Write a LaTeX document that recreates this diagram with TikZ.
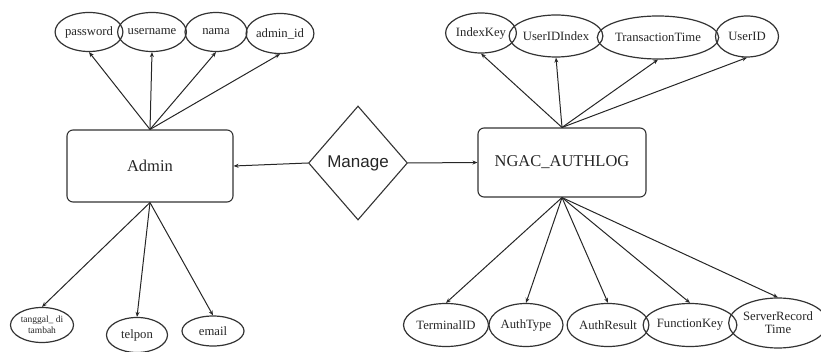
\documentclass[tikz,border=0pt]{standalone}
\usepackage{fontspec}
\setmainfont{Liberation Serif}
\newfontfamily\mansans{Liberation Sans}
\usetikzlibrary{shapes.geometric,arrows.meta}
\begin{document}
\begin{tikzpicture}[x=1pt,y=-1pt,
  attr/.style={draw=black!80, text=black!85, line width=1.2pt, ellipse, inner sep=0pt, align=center, font=\fontsize{12.7}{13}\selectfont},
  entity/.style={draw=black!80, text=black!85, line width=1.1pt, rounded corners=6pt, inner sep=0pt, font=\fontsize{16.5}{18}\selectfont},
  rel/.style={draw=black!80, text=black!85, line width=1.1pt, diamond, inner sep=0pt, minimum width=99pt, minimum height=114pt, font=\mansans\fontsize{17}{18}\selectfont},
  conn/.style={draw=black!85, line width=1pt, -{Stealth[length=5pt,width=4pt]}}]
\useasboundingbox (0,0) rectangle (821,352);
% entities
\node[entity, minimum width=166pt, minimum height=72pt] (admin) at (150,166) {Admin};
\node[entity, minimum width=168pt, minimum height=69pt] (ngac) at (562,162.5) {NGAC\_AUTHLOG};
\node[rel] (manage) at (358,163) {Manage};
% admin attributes
\node[attr, minimum width=62pt, minimum height=39pt] (pw) at (89,32) {password};
\node[attr, minimum width=62pt, minimum height=39pt] (un) at (152,32) {username};
\node[attr, minimum width=62pt, minimum height=39pt] (nama) at (216,32) {nama};
\node[attr, minimum width=64pt, minimum height=40pt] (aid) at (280,33.5) {admin\_id};
\node[attr, minimum width=63pt, minimum height=35pt, font=\fontsize{9.5}{11}\selectfont] (tgl) at (42,325) {tanggal\_ di\\tambah};
\node[attr, minimum width=61pt, minimum height=35pt] (tel) at (137,335) {telpon};
\node[attr, minimum width=62pt, minimum height=30pt] (email) at (213,331) {email};
% ngac attributes
\node[attr, minimum width=65pt, minimum height=40pt] (ik) at (481,33) {IndexKey};
\node[attr, minimum width=87pt, minimum height=42pt] (uii) at (556,36) {UserIDIndex};
\node[attr, minimum width=114pt, minimum height=43pt] (tt) at (658,37.5) {TransactionTime};
\node[attr, minimum width=63pt, minimum height=41pt] (uid) at (747,36.5) {UserID};
\node[attr, minimum width=85pt, minimum height=43pt] (tid) at (446,325) {TerminalID};
\node[attr, minimum width=74pt, minimum height=43pt] (at) at (526,325) {AuthType};
\node[attr, minimum width=80pt, minimum height=43pt] (ar) at (608,325) {AuthResult};
\node[attr, minimum width=85pt, minimum height=43pt] (fk) at (690,325) {FunctionKey};
\node[attr, minimum width=86pt, minimum height=50pt] (srt) at (778,323) {ServerRecord\\Time};
% connectors
\foreach \t in {pw,un,nama,aid} \draw[conn] (admin.north) -- (\t.south);
\foreach \t in {tgl,tel,email} \draw[conn] (admin.south) -- (\t.north);
\foreach \t in {ik,uii,tt,uid} \draw[conn] (ngac.north) -- (\t.south);
\foreach \t in {tid,at,ar,fk,srt} \draw[conn] (ngac.south) -- (\t.north);
\draw[conn] (manage.west) -- (admin.east);
\draw[conn] (manage.east) -- (ngac.west);
\end{tikzpicture}
\end{document}
